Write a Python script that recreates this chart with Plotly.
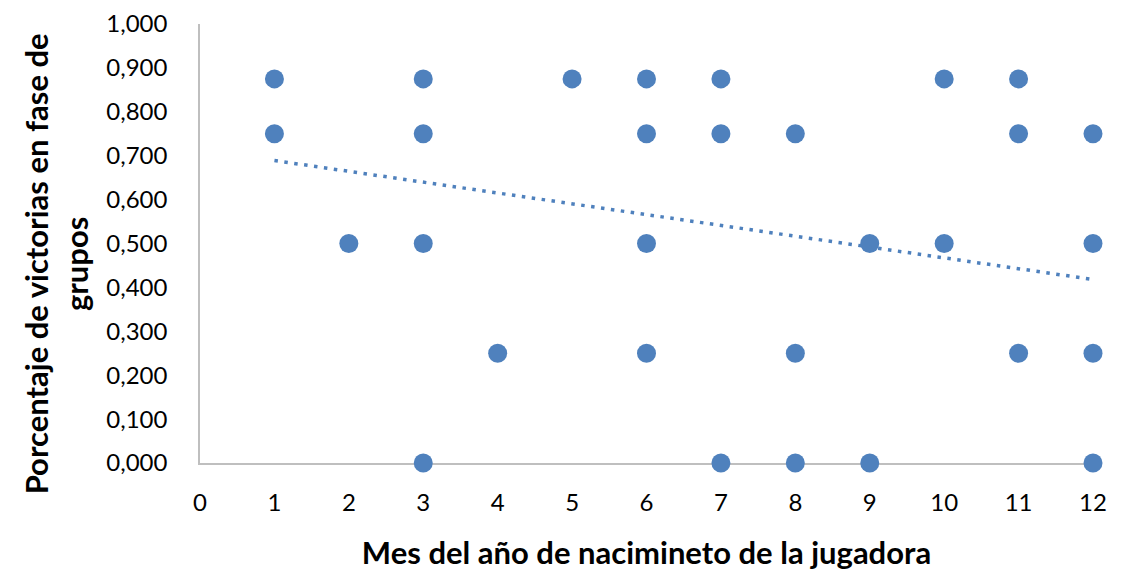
import plotly.graph_objects as go

months = [1, 1, 2, 3, 3, 3, 3, 4, 5, 6, 6, 6, 6, 7, 7, 7, 8, 8, 8, 9, 9, 10, 10, 11, 11, 11, 12, 12, 12, 12]
win_pct = [0.875, 0.75, 0.5, 0.875, 0.75, 0.5, 0.0, 0.25, 0.875, 0.875, 0.75, 0.5, 0.25,
           0.875, 0.75, 0.0, 0.75, 0.25, 0.0, 0.5, 0.0, 0.875, 0.5, 0.875, 0.75, 0.25,
           0.75, 0.5, 0.25, 0.0]
trend_x = [1, 12]
trend_y = [0.689, 0.418]
x_ticks = list(range(0, 13))
y_ticks = [round(i * 0.1, 1) for i in range(11)]
y_labels = [f"{v:.3f}".replace(".", ",") for v in y_ticks]

color = "#4F81BD"
fnt = "Lato, 'Open Sans', sans-serif"

fig = go.Figure()
fig.add_trace(go.Scatter(x=months, y=win_pct, mode="markers", cliponaxis=False,
                         marker=dict(color=color, size=19), showlegend=False))
fig.add_trace(go.Scatter(x=trend_x, y=trend_y, mode="lines",
                         line=dict(color=color, width=3.5, dash="3.5px,6.5px"), showlegend=False))

fig.update_layout(
    width=1121, height=572,
    margin=dict(l=192, r=36, t=16, b=117),
    plot_bgcolor="white", paper_bgcolor="white",
    font=dict(family=fnt, color="black", size=24),
    xaxis=dict(range=[0, 12], tickvals=x_ticks, showgrid=False, zeroline=False,
               showline=True, linecolor="#BFBFBF", linewidth=1.5, ticks="",
               ticklabelstandoff=17, automargin=False, layer="below traces",
               title=dict(text="<b>Mes del año de nacimineto de la jugadora</b>",
                          font=dict(size=31), standoff=28)),
    yaxis=dict(range=[0, 1], tickvals=y_ticks, ticktext=y_labels, showgrid=False,
               zeroline=False, showline=True, linecolor="#BFBFBF", linewidth=1.5,
               ticks="", ticklabelstandoff=26, automargin=False, layer="below traces"),
    annotations=[dict(text="<b>Porcentaje de victorias en fase de<br>grupos</b>",
                      xref="paper", yref="paper", x=-0.161, y=0.453,
                      xanchor="center", yanchor="middle", textangle=-90,
                      showarrow=False, align="center", font=dict(size=31))],
)
fig.write_html("out.html")
